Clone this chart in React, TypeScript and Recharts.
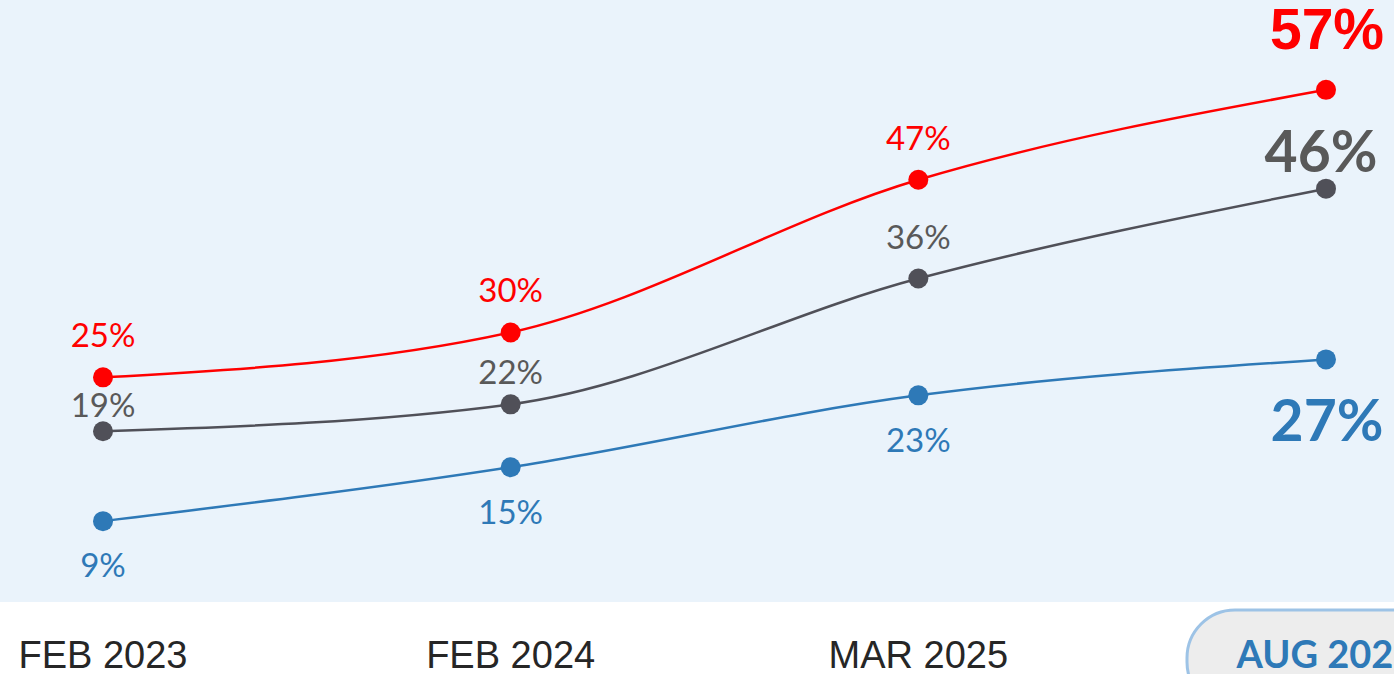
import React from 'react';
import { LineChart, Line, XAxis, YAxis, CartesianGrid, LabelList } from 'recharts';

const categories = ['FEB 2023', 'FEB 2024', 'MAR 2025', 'AUG 2025'];
const redValues = [25, 30, 47, 57];
const grayValues = [19, 22, 36, 46];
const blueValues = [9, 15, 23, 27];

const RED = '#FF0000';
const GRAY = '#505058';
const GRAY_TEXT = '#595959';
const BLUE = '#2E79B7';
const BG = '#EAF3FB';

const data = categories.map((name, i) => ({
    name,
    red: redValues[i],
    gray: grayValues[i],
    blue: blueValues[i],
}));

// baseline offsets of the value labels relative to each point
const redLabelDy = [-30, -30, -30, -41];
const grayLabelDy = [-14, -20, -30, -17];
const blueLabelDy = [56, 57, 57, 82];

const makeLabel = (color: string, dy: number[], lastFont: string, lastDx: number) => (props: any) => {
    const { x, y, value, index } = props;
    const last = index === categories.length - 1;
    return (
        <text
            x={x + (last ? lastDx : 0)}
            y={y + dy[index]}
            textAnchor="middle"
            fill={color}
            fontFamily={last ? lastFont : 'Lato, sans-serif'}
            fontWeight={last ? 700 : 400}
            fontSize={last ? 57 : 33}
        >
            {value}%
        </text>
    );
};

const makeDot = (color: string) => (props: any) => {
    const { cx, cy, index } = props;
    return <circle key={`dot-${index}`} cx={cx} cy={cy} r={10} fill={color} />;
};

const AxisTick = (props: any) => {
    const { x, y, payload, index } = props;
    const last = index === categories.length - 1;
    if (last) {
        return (
            <g>
                <rect x={x - 139} y={y + 8} width={278} height={100} rx={48} fill="#EDEDED" stroke="#9DC3E6" strokeWidth={3} />
                <text x={x} y={y + 66} textAnchor="middle" fill={BLUE} fontFamily="Lato, sans-serif" fontWeight={700} fontSize={38}>
                    {payload.value}
                </text>
            </g>
        );
    }
    return (
        <text x={x} y={y + 66} textAnchor="middle" fill="#262626" fontFamily="'Liberation Sans', Arial, sans-serif" fontSize={38}>
            {payload.value}
        </text>
    );
};

export default function App() {
    return (
        <div style={{ width: 1394, height: 674, background: '#fff', overflow: 'hidden' }}>
            <style>{'body{margin:0}'}</style>
            <LineChart width={1394} height={674} data={data} margin={{ top: 0, right: 0, bottom: 0, left: 0 }}>
                <CartesianGrid fill={BG} stroke="none" horizontal={false} vertical={false} />
                <XAxis
                    dataKey="name"
                    height={72}
                    axisLine={false}
                    tickLine={false}
                    tickSize={0}
                    tickMargin={0}
                    padding={{ left: 103, right: 68 }}
                    tick={<AxisTick />}
                    interval={0}
                />
                <YAxis hide domain={[0, 67]} />
                <Line type="monotone" dataKey="blue" stroke={BLUE} strokeWidth={2.5}
                    dot={makeDot(BLUE)} activeDot={false} isAnimationActive={false}>
                    <LabelList dataKey="blue" content={makeLabel(BLUE, blueLabelDy, 'Lato, sans-serif', 1)} />
                </Line>
                <Line type="monotone" dataKey="gray" stroke={GRAY} strokeWidth={2.5}
                    dot={makeDot(GRAY)} activeDot={false} isAnimationActive={false}>
                    <LabelList dataKey="gray" content={makeLabel(GRAY_TEXT, grayLabelDy, 'Lato, sans-serif', -5)} />
                </Line>
                <Line type="monotone" dataKey="red" stroke={RED} strokeWidth={2.5}
                    dot={makeDot(RED)} activeDot={false} isAnimationActive={false}>
                    <LabelList dataKey="red" content={makeLabel(RED, redLabelDy, "'Liberation Sans', Arial, sans-serif", 1)} />
                </Line>
            </LineChart>
        </div>
    );
}
